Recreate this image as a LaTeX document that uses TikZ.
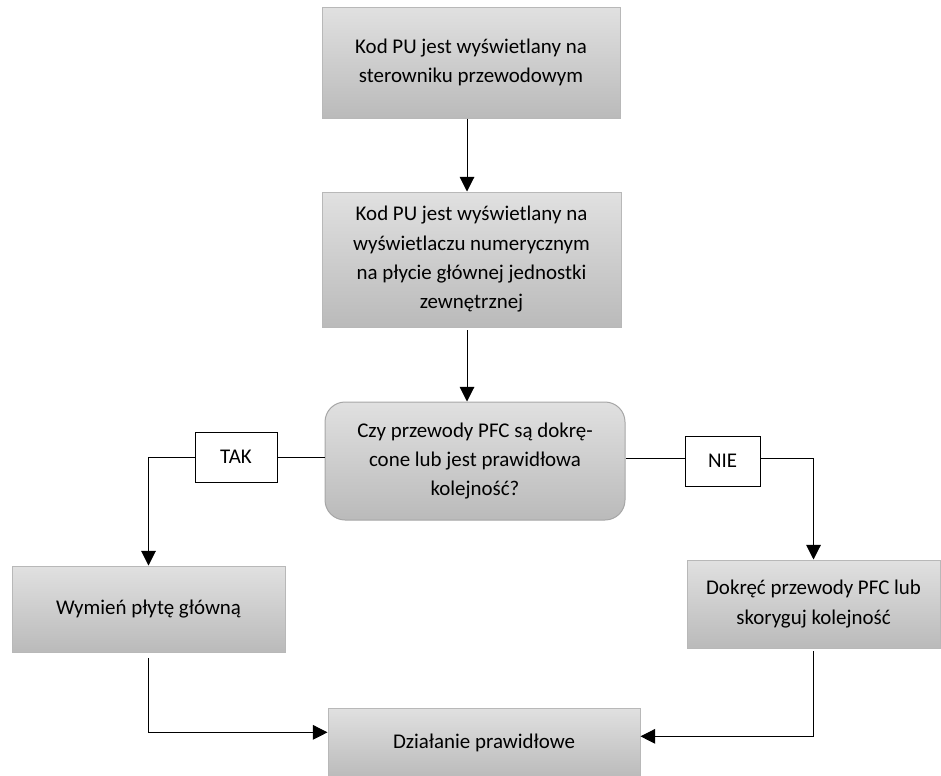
\documentclass[tikz,border=0pt]{standalone}
\usepackage{fontspec}
\setmainfont{Carlito}
\usetikzlibrary{arrows.meta}

\begin{document}
\begin{tikzpicture}
  [x=0.75pt,y=-0.75pt,line width=0.75pt,
   every node/.style={font=\fontsize{15.7}{22}\selectfont,align=center,inner sep=0pt},
   stepbox/.style={draw=black!28,top color=black!12,bottom color=black!27},
   askbox/.style={stepbox,rounded corners=15pt,draw=black!35},
   answer/.style={draw=black,fill=white},
   arrow/.style={-{Triangle[width=11pt,length=11pt]}}]
  \useasboundingbox (0,0) rectangle (941,775);

  \node[stepbox,minimum width=223.5pt,minimum height=83.25pt] (code) at (471,62.5)
    {Kod PU jest wyświetlany na\\sterowniku przewodowym};
  \node[stepbox,minimum width=224.25pt,minimum height=101.25pt] (disp) at (471.5,259.5)
    {Kod PU jest wyświetlany na\\wyświetlaczu numerycznym\\na płycie głównej jednostki\\zewnętrznej};
  \node[askbox,minimum width=225pt,minimum height=88.5pt] (check) at (475,461)
    {Czy przewody PFC są dokrę-\\cone lub jest prawidłowa\\kolejność?};
  \node[answer,minimum width=61.5pt,minimum height=37.5pt] (tak) at (236,457) {TAK};
  \node[answer,minimum width=56.25pt,minimum height=37.5pt] (nie) at (722.5,461) {NIE};
  \node[stepbox,minimum width=204.75pt,minimum height=64.5pt] (swap) at (148.5,609)
    {Wymień płytę główną};
  \node[stepbox,minimum width=189.75pt,minimum height=66pt] (fix) at (813.5,604)
    {Dokręć przewody PFC lub\\skoryguj kolejność};
  \node[stepbox,minimum width=234pt,minimum height=52.5pt] (ok) at (484,743)
    {Działanie prawidłowe};

  \coordinate (down1) at (467,0);
  \draw[arrow] (down1 |- code.south) -- (down1 |- disp.north);
  \draw[arrow,shorten <=2pt] (down1 |- disp.south) -- (down1 |- check.north);

  \draw (check.west |- tak.east) -- (tak.east);
  \draw[arrow] (tak.west) -| (swap.north);
  \draw (check.east |- 0,458) -- (nie.west |- 0,458);
  \draw[arrow] (nie.east |- 0,458) -| (fix.north);

  \draw[arrow,shorten <=4pt] (swap.south) |- ([yshift=8pt]ok.west);
  \draw[arrow,shorten <=2pt] (fix.south) |- ([yshift=5pt]ok.east);
\end{tikzpicture}
\end{document}
